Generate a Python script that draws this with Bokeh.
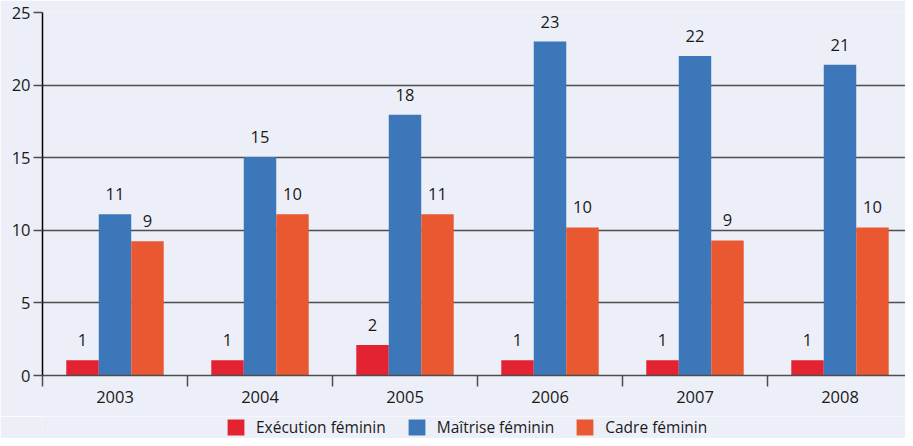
from bokeh.plotting import figure
from bokeh.layouts import column
from bokeh.models import (ColumnDataSource, Range1d, FixedTicker, Legend, LegendItem)
from bokeh.core.properties import value
from bokeh.embed import file_html
from bokeh.resources import INLINE

years = ["2003", "2004", "2005", "2006", "2007", "2008"]
execution = [1.05, 1.05, 2.1, 1.05, 1.05, 1.05]
maitrise = [11.1, 15.05, 17.95, 23.0, 22.0, 21.4]
cadre = [9.25, 11.1, 11.1, 10.2, 9.3, 10.2]
execution_labels = ["1", "1", "2", "1", "1", "1"]
maitrise_labels = ["11", "15", "18", "23", "22", "21"]
cadre_labels = ["9", "10", "11", "10", "9", "10"]
series_names = ["Exécution féminin", "Maîtrise féminin", "Cadre féminin"]
y_ticks = [0, 5, 10, 15, 20, 25]

colors = ["#E32232", "#3C78B9", "#EA5832"]
BG = "#ECEFF7"
FONT = "Open Sans"
TXT = "#1a1a1a"

n = len(years)
centers = [i + 0.5 for i in range(n)]
bw = 0.224

p = figure(width=905, height=416, output_backend="svg", toolbar_location=None,
           x_range=Range1d(0, 863 / 145.0), y_range=Range1d(0, 25),
           min_border_left=42, min_border_right=0, min_border_top=12, min_border_bottom=41)
p.background_fill_color = BG
p.border_fill_color = BG
p.outline_line_color = None

# legend strip below the chart (separate figure so it is not clipped)
leg = figure(width=905, height=22, output_backend="svg", toolbar_location=None,
             x_range=Range1d(-20, -19), y_range=Range1d(0, 1),
             min_border_left=0, min_border_right=0, min_border_top=0, min_border_bottom=0)
leg.background_fill_color = BG
leg.border_fill_color = BG
leg.outline_line_color = None
leg.axis.visible = False
leg.grid.visible = False

series = [(execution, execution_labels), (maitrise, maitrise_labels), (cadre, cadre_labels)]
leg_renderers = []
for k, (vals, labs) in enumerate(series):
    xs = [c + (k - 1) * bw for c in centers]
    src = ColumnDataSource(dict(x=xs, top=vals, lab=labs))
    p.vbar(x="x", top="top", bottom=0, width=bw, source=src, fill_color=colors[k], line_color=None)
    p.text(x="x", y="top", text="lab", source=src, y_offset=-20, text_align="center",
           text_baseline="middle", text_font=value(FONT), text_font_size="16.5px", text_color=TXT)
    lr = leg.vbar(x="x", top="top", bottom=0, width=bw, source=src, fill_color=colors[k], line_color=None)
    leg_renderers.append(lr)

# axes
p.yaxis.ticker = FixedTicker(ticks=y_ticks)
p.yaxis.axis_line_color = "#000000"
p.yaxis.axis_line_width = 1.5
p.yaxis.major_tick_out = 9
p.yaxis.major_tick_in = 0
p.yaxis.major_tick_line_color = "#4d4d4d"
p.yaxis.major_tick_line_width = 1.5
p.yaxis.minor_tick_line_color = None
p.yaxis.major_label_standoff = 3
p.yaxis.major_label_text_font = FONT
p.yaxis.major_label_text_font_size = "16.5px"
p.yaxis.major_label_text_color = TXT
p.yaxis.axis_label = None
p.yaxis.axis_label_standoff = 0

p.xaxis.ticker = FixedTicker(ticks=centers, minor_ticks=list(range(n)))
p.xaxis.major_label_overrides = {c: y for c, y in zip(centers, years)}
p.xaxis.major_tick_line_color = None
p.xaxis.minor_tick_out = 11
p.xaxis.minor_tick_in = 0
p.xaxis.minor_tick_line_color = "#4d4d4d"
p.xaxis.minor_tick_line_width = 1.5
p.xaxis.axis_line_color = "#4d4d4d"
p.xaxis.axis_line_width = 1.5
p.xaxis.major_label_standoff = 4
p.xaxis.major_label_text_font = FONT
p.xaxis.major_label_text_font_size = "16.5px"
p.xaxis.major_label_text_color = TXT
p.xaxis.axis_label = None
p.xaxis.axis_label_standoff = 0

p.xgrid.grid_line_color = None
p.ygrid.ticker = FixedTicker(ticks=y_ticks)
p.ygrid.grid_line_color = "#4d4d4d"
p.ygrid.grid_line_width = 1.5

legend = Legend(items=[LegendItem(label=series_names[k], renderers=[leg_renderers[k]]) for k in range(3)],
                location=(183, 0), orientation="horizontal",
                glyph_width=21, glyph_height=20, label_standoff=10,
                padding=0, margin=0, spacing=20,
                border_line_color=None, background_fill_alpha=0,
                label_text_font=FONT, label_text_font_size="15.5px", label_text_color=TXT,
                label_height=20)
leg.add_layout(legend, "center")

layout = column(p, leg, spacing=0)
open("out.html", "w").write(file_html(layout, INLINE))
